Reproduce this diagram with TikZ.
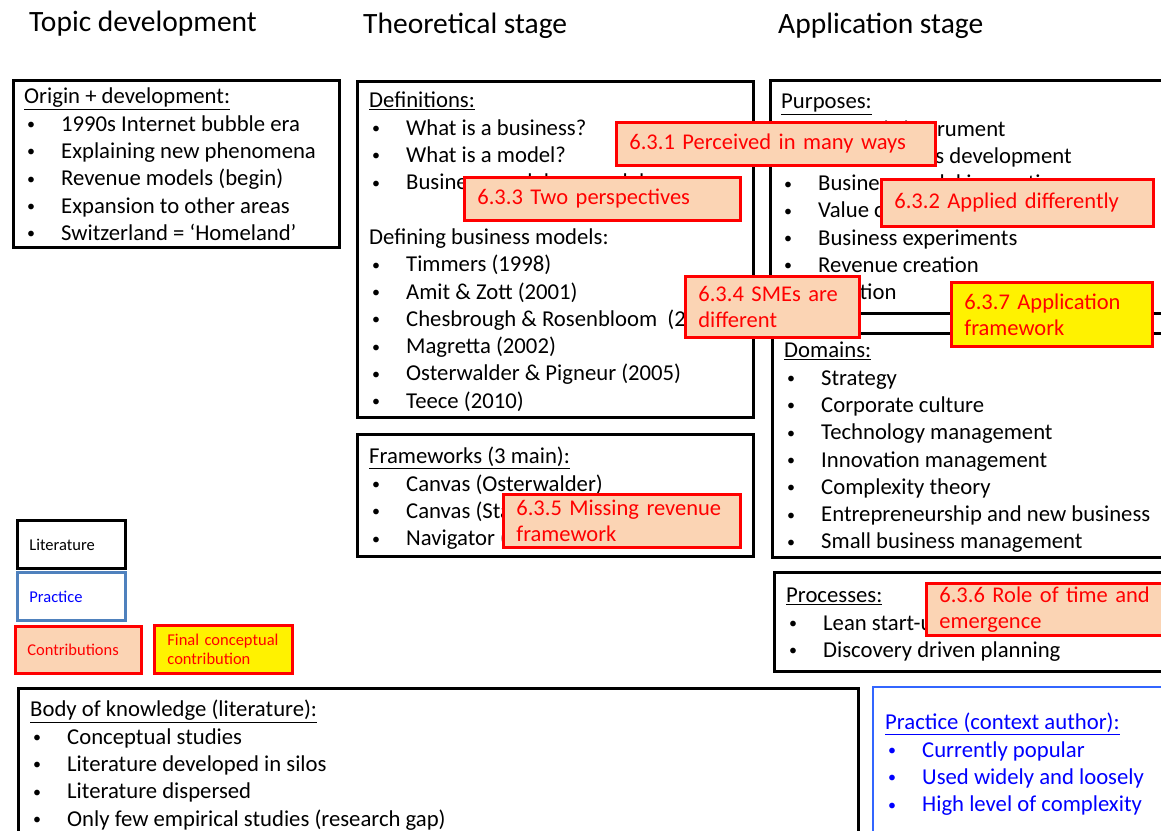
\documentclass[tikz,border=0pt]{standalone}
\usepackage{fontspec}
\setmainfont{Carlito}
\usetikzlibrary{positioning}

\definecolor{peach}{HTML}{FBD4B4}
\definecolor{legendblue}{HTML}{4F81BD}
\definecolor{pracblue}{HTML}{3366FF}
\definecolor{textblue}{HTML}{0000FF}

\newcommand{\bul}[1]{\makebox[37pt][l]{\hspace{3pt}\raisebox{1.6pt}{\fontsize{16}{16}\selectfont\textbullet}}#1}

\begin{document}
\begin{tikzpicture}[x=1pt, y=-1pt,
  stage/.style={anchor=west, inner sep=0pt, font=\fontsize{29.5}{35}\selectfont},
  litbox/.style={draw=black, line width=2.8pt, anchor=north west, inner sep=0pt},
  pracbox/.style={litbox, draw=pracblue, line width=2.4pt},
  listtext/.style={anchor=north west, inner sep=0pt, align=left, font=\fontsize{22.7}{27.3}\selectfont},
  contrib/.style={draw=red, line width=2.8pt, fill=peach, text=red, anchor=north west,
    inner xsep=13pt, inner ysep=0pt, align=left, font=\fontsize{22.5}{26}\selectfont},
  finalcontrib/.style={contrib, fill=yellow},
  legend/.style={draw=black, line width=2.8pt, anchor=north west, minimum height=48,
    inner xsep=12pt, align=left, font=\fontsize{16.5}{19.5}\selectfont}
]
\useasboundingbox (0,0) rectangle (1161,830);
\clip (0,0) rectangle (1161,830);

% stages
\node[stage] (topic) at (29,24) {Topic development};
\node[stage] (theory) at (363,26) {Theoretical stage};
\node[stage] (applic) at (778,26) {Application stage};

% topic development
\node[litbox, minimum width=326, minimum height=167] (origin) at (12,79) {};
\node[listtext, below right=9pt and 12pt of origin.north west] (origin-txt) {%
  \underline{Origin + development:}\\
  \bul{1990s Internet bubble era}\\
  \bul{Explaining new phenomena}\\
  \bul{Revenue models (begin)}\\
  \bul{Expansion to other areas}\\
  \bul{Switzerland = ‘Homeland’}};

% theoretical stage
\node[litbox, minimum width=396, minimum height=336] (defs) at (356,80) {};
\node[listtext, below right=12pt and 13pt of defs.north west] (defs-txt) {%
  \underline{Definitions:}\\
  \bul{What is a business?}\\
  \bul{What is a model?}\\
  \bul{Business model vs. model}\\[27.3pt]
  Defining business models:\\
  \bul{Timmers (1998)}\\
  \bul{Amit \& Zott (2001)}\\
  \bul{Chesbrough \& Rosenbloom~~(2002)}\\
  \bul{Magretta (2002)}\\
  \bul{Osterwalder \& Pigneur (2005)}\\
  \bul{Teece (2010)}};

\node[litbox, minimum width=396, minimum height=122] (frames) at (356,433) {};
\node[listtext, below right=14pt and 13pt of frames.north west] (frames-txt) {%
  \underline{Frameworks (3 main):}\\
  \bul{Canvas (Osterwalder)}\\
  \bul{Canvas (Stähler)}\\
  \bul{Navigator (St. Gallen)}};

% application stage
\node[litbox, minimum width=420, minimum height=233] (purposes) at (769,79) {};
\node[listtext, below right=15pt and 12pt of purposes.north west] (purposes-txt) {%
  \underline{Purposes:}\\
  \bul{Strategic instrument}\\
  \bul{New business development}\\
  \bul{Business model innovation}\\
  \bul{Value creation}\\
  \bul{Business experiments}\\
  \bul{Revenue creation}\\
  \bul{Creation}};

\node[litbox, minimum width=420, minimum height=224] (domains) at (771,332) {};
\node[listtext, below right=10pt and 13pt of domains.north west] (domains-txt) {%
  \underline{Domains:}\\
  \bul{Strategy}\\
  \bul{Corporate culture}\\
  \bul{Technology management}\\
  \bul{Innovation management}\\
  \bul{Complexity theory}\\
  \bul{Entrepreneurship and new business}\\
  \bul{Small business management}};

\node[litbox, minimum width=420, minimum height=99] (processes) at (773,571) {};
\node[listtext, below right=17pt and 13pt of processes.north west] (processes-txt) {%
  \underline{Processes:}\\
  \bul{Lean start-up}\\
  \bul{Discovery driven planning}};

% body of knowledge and practice
\node[litbox, minimum width=840, minimum height=170] (body) at (17,687) {};
\node[listtext, below right=13pt and 13pt of body.north west] (body-txt) {%
  \underline{Body of knowledge (literature):}\\
  \bul{Conceptual studies}\\
  \bul{Literature developed in silos}\\
  \bul{Literature dispersed}\\
  \bul{Only few empirical studies (research gap)}};

\node[pracbox, minimum width=320, minimum height=170] (practice) at (872,686) {};
\node[listtext, text=textblue, below right=27pt and 13pt of practice.north west] (practice-txt) {%
  \underline{Practice (context author):}\\
  \bul{Currently popular}\\
  \bul{Used widely and loosely}\\
  \bul{High level of complexity}};

% legend
\node[legend, text width=84] (leg-lit) at (16,519) {Literature};
\node[legend, text width=84, draw=legendblue, text=textblue] (leg-prac) at (16,571) {Practice};
\node[legend, text width=102, minimum height=47, draw=red, fill=peach, text=red] (leg-contrib) at (14,625) {Contributions};
\node[legend, text width=112, inner xsep=13pt, draw=red, fill=yellow, text=red] (leg-final) at (153,624) {Final conceptual\\contribution};

% contributions
\node[contrib, text width=293, minimum height=43] (c631) at (615,121) {6.3.1 Perceived in many ways};
\node[contrib, text width=250, minimum height=43] (c633) at (463,176) {6.3.3 Two perspectives};
\node[contrib, text width=246, minimum height=47] (c632) at (880,178) {6.3.2 Applied differently};
\node[contrib, text width=148, minimum height=61] (c634) at (684,275) {6.3.4 SMEs are\\different};
\node[finalcontrib, text width=175, minimum height=64] (c637) at (950,281) {6.3.7 Application\\framework};
\node[contrib, text width=211, minimum height=53] (c635) at (502,493) {6.3.5 Missing revenue\\framework};
\node[contrib, text width=240, minimum height=52] (c636) at (925,582) {6.3.6 Role of time and\\emergence};
\end{tikzpicture}
\end{document}
